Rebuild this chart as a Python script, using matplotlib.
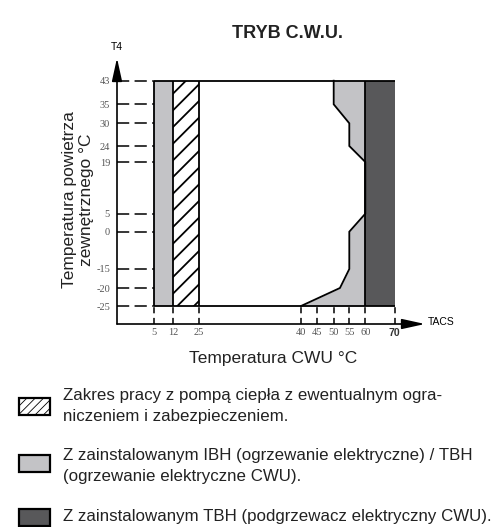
import matplotlib
matplotlib.use("Agg")
import matplotlib.pyplot as plt
import numpy as np
from matplotlib.patches import Rectangle

# --- data ---
TACS_TICKS = [5, 12, 25, 40, 45, 50, 55, 60, 70]
T4_TICKS = [-25, -20, -15, 0, 5, 19, 24, 30, 35, 43]
T4_RANGE = [-25, 43]
IBH_LEFT = (5, 12)       # electric heater zone, low tank temps
HP_RANGE = (12, 25)      # heat pump with limits (hatched)
TBH_RANGE = (60, 70)     # tank booster heater
# left edge of the IBH/TBH zone on the hot side
IBH_T4 = [-25, -20, -15, 0, 5, 19, 24, 30, 35, 43]
IBH_TACS = [40, 52, 55, 55, 60, 60, 55, 55, 50, 50]

LEGEND = [
    "Zakres pracy z pompą ciepła z ewentualnym ogra-\nniczeniem i zabezpieczeniem.",
    "Z zainstalowanym IBH (ogrzewanie elektryczne) / TBH\n(ogrzewanie elektryczne CWU).",
    "Z zainstalowanym TBH (podgrzewacz elektryczny CWU).",
]

# --- layout: the chart is schematic, ticks are not evenly spaced ---
W, H = 501, 527
X_PX = [153.7, 173, 198.7, 301, 317.3, 333.7, 349.3, 365.3, 394.7]
Y_PX = [306, 288, 269, 231.7, 213.7, 162, 146, 123.3, 104.3, 80.7]
AX_LEFT, AX_RIGHT, AX_BOTTOM, AX_TOP = 117, 425, 324, 58

LIGHT = "#c3c3c6"
DARK = "#58585a"
TICK_GREY = "#555555"
TEXT = "#222222"
SANS = "Liberation Sans"
SERIF = "Liberation Serif"
plt.rcParams["hatch.linewidth"] = 1.3


def piecewise(vals, pos):
    vals = np.asarray(vals, float)
    pos = np.asarray(pos, float)
    s0 = (pos[1] - pos[0]) / (vals[1] - vals[0])
    s1 = (pos[-1] - pos[-2]) / (vals[-1] - vals[-2])

    def fwd(v):
        v = np.asarray(v, float)
        out = np.interp(v, vals, pos)
        out = np.where(v < vals[0], pos[0] + (v - vals[0]) * s0, out)
        return np.where(v > vals[-1], pos[-1] + (v - vals[-1]) * s1, out)

    def inv(p):
        p = np.asarray(p, float)
        out = np.interp(p, pos, vals)
        out = np.where(p < pos[0], vals[0] + (p - pos[0]) / s0, out)
        return np.where(p > pos[-1], vals[-1] + (p - pos[-1]) / s1, out)

    return fwd, inv


xf, xi = piecewise(TACS_TICKS, X_PX)
yf, yi = piecewise(T4_TICKS, [-p for p in Y_PX])

fig = plt.figure(figsize=(W / 100, H / 100), dpi=100)
ax = fig.add_axes([AX_LEFT / W, 1 - AX_BOTTOM / H,
                   (AX_RIGHT - AX_LEFT) / W, (AX_BOTTOM - AX_TOP) / H])
ax.set_xscale("function", functions=(xf, xi))
ax.set_yscale("function", functions=(yf, yi))
x0, x1 = float(xi(AX_LEFT)), float(xi(AX_RIGHT))
y0, y1 = float(yi(-AX_BOTTOM)), float(yi(-AX_TOP))
ax.set_xlim(x0, x1)
ax.set_ylim(y0, y1)

# --- zones ---
ax.fill_betweenx(T4_RANGE, *IBH_LEFT, color=LIGHT, lw=0)
ax.fill_betweenx(T4_RANGE, *HP_RANGE, facecolor="white", edgecolor="k",
                 hatch="//", lw=0)
ax.fill_betweenx(IBH_T4, IBH_TACS, TBH_RANGE[0], color=LIGHT, lw=0)
ax.fill_betweenx(T4_RANGE, *TBH_RANGE, color=DARK, lw=0)

lw = 1.3
ax.plot(IBH_TACS, IBH_T4, color="k", lw=lw, solid_joinstyle="miter")
ax.vlines([IBH_LEFT[0], HP_RANGE[0], HP_RANGE[1], TBH_RANGE[0]],
          T4_RANGE[0], T4_RANGE[1], color="k", lw=lw)
ax.hlines(T4_RANGE, IBH_LEFT[0], TBH_RANGE[1], color="k", lw=lw)

# dashed guides to the axes
ax.hlines(T4_TICKS, x0, IBH_LEFT[0], color="k", lw=1.1,
          linestyles=(0, (8, 3.5)))
ax.vlines(TACS_TICKS, y0, T4_RANGE[0], color="k", lw=1.1,
          linestyles=(0, (4, 3)))

# --- axes with arrows ---
for s in ax.spines.values():
    s.set_visible(False)
arrow = dict(arrowstyle="-|>,head_length=1.0,head_width=0.22", color="k",
             lw=1.2, mutation_scale=14, shrinkA=0, shrinkB=0)
ax.annotate("", xy=(1, 0), xytext=(0, 0), xycoords="axes fraction",
            arrowprops=arrow)
ax.annotate("", xy=(0, 1), xytext=(0, 0), xycoords="axes fraction",
            arrowprops=arrow)

ax.set_xticks(TACS_TICKS, [str(t) for t in TACS_TICKS])
ax.set_yticks(T4_TICKS, [str(t) for t in T4_TICKS])
ax.minorticks_off()
ax.tick_params(length=0, labelsize=7.5, labelcolor=TICK_GREY)
ax.tick_params(axis="x", pad=3)
ax.tick_params(axis="y", pad=5)
for lab in ax.get_xticklabels() + ax.get_yticklabels():
    lab.set_fontfamily(SERIF)
last = ax.get_xticklabels()[-1]
last.set_fontfamily(SANS)
last.set_fontweight("bold")
last.set_color("#333333")

fig.text(AX_LEFT / W, 1 - 47 / H, "T4", ha="center", va="center",
         fontsize=7.5, family=SANS)
fig.text(428 / W, 1 - 322 / H, "TACS", ha="left", va="center",
         fontsize=7.5, family=SANS)

fig.text(287 / W, 1 - 33 / H, "TRYB C.W.U.", ha="center", va="center",
         fontsize=13, fontweight="bold", family=SANS, color=TEXT)
fig.text(273 / W, 1 - 359 / H, "Temperatura CWU °C", ha="center",
         va="center", fontsize=12.5, family=SANS, color=TEXT)
fig.text(78 / W, 1 - 200 / H, "Temperatura powietrza\nzewnętrznego °C",
         ha="center", va="center", rotation=90, fontsize=12.5, family=SANS,
         color=TEXT, linespacing=1.2)

# --- legend ---
plt.rcParams["hatch.linewidth"] = 0.6
swatches = [
    dict(facecolor="white", edgecolor="k", hatch="////"),
    dict(facecolor=LIGHT, edgecolor="k"),
    dict(facecolor=DARK, edgecolor="k"),
]
text_y = [406, 466, 517]
box_y = [406, 463, 517]
for label, style, ty, by in zip(LEGEND, swatches, text_y, box_y):
    fig.patches.append(Rectangle((19 / W, 1 - (by + 8.5) / H), 31 / W,
                                 17 / H, transform=fig.transFigure, lw=1.6,
                                 **style))
    fig.text(63 / W, 1 - ty / H, label, ha="left", va="center",
             fontsize=12.2, family=SANS, color=TEXT, linespacing=1.5)

fig.savefig("out.png", dpi=100)
